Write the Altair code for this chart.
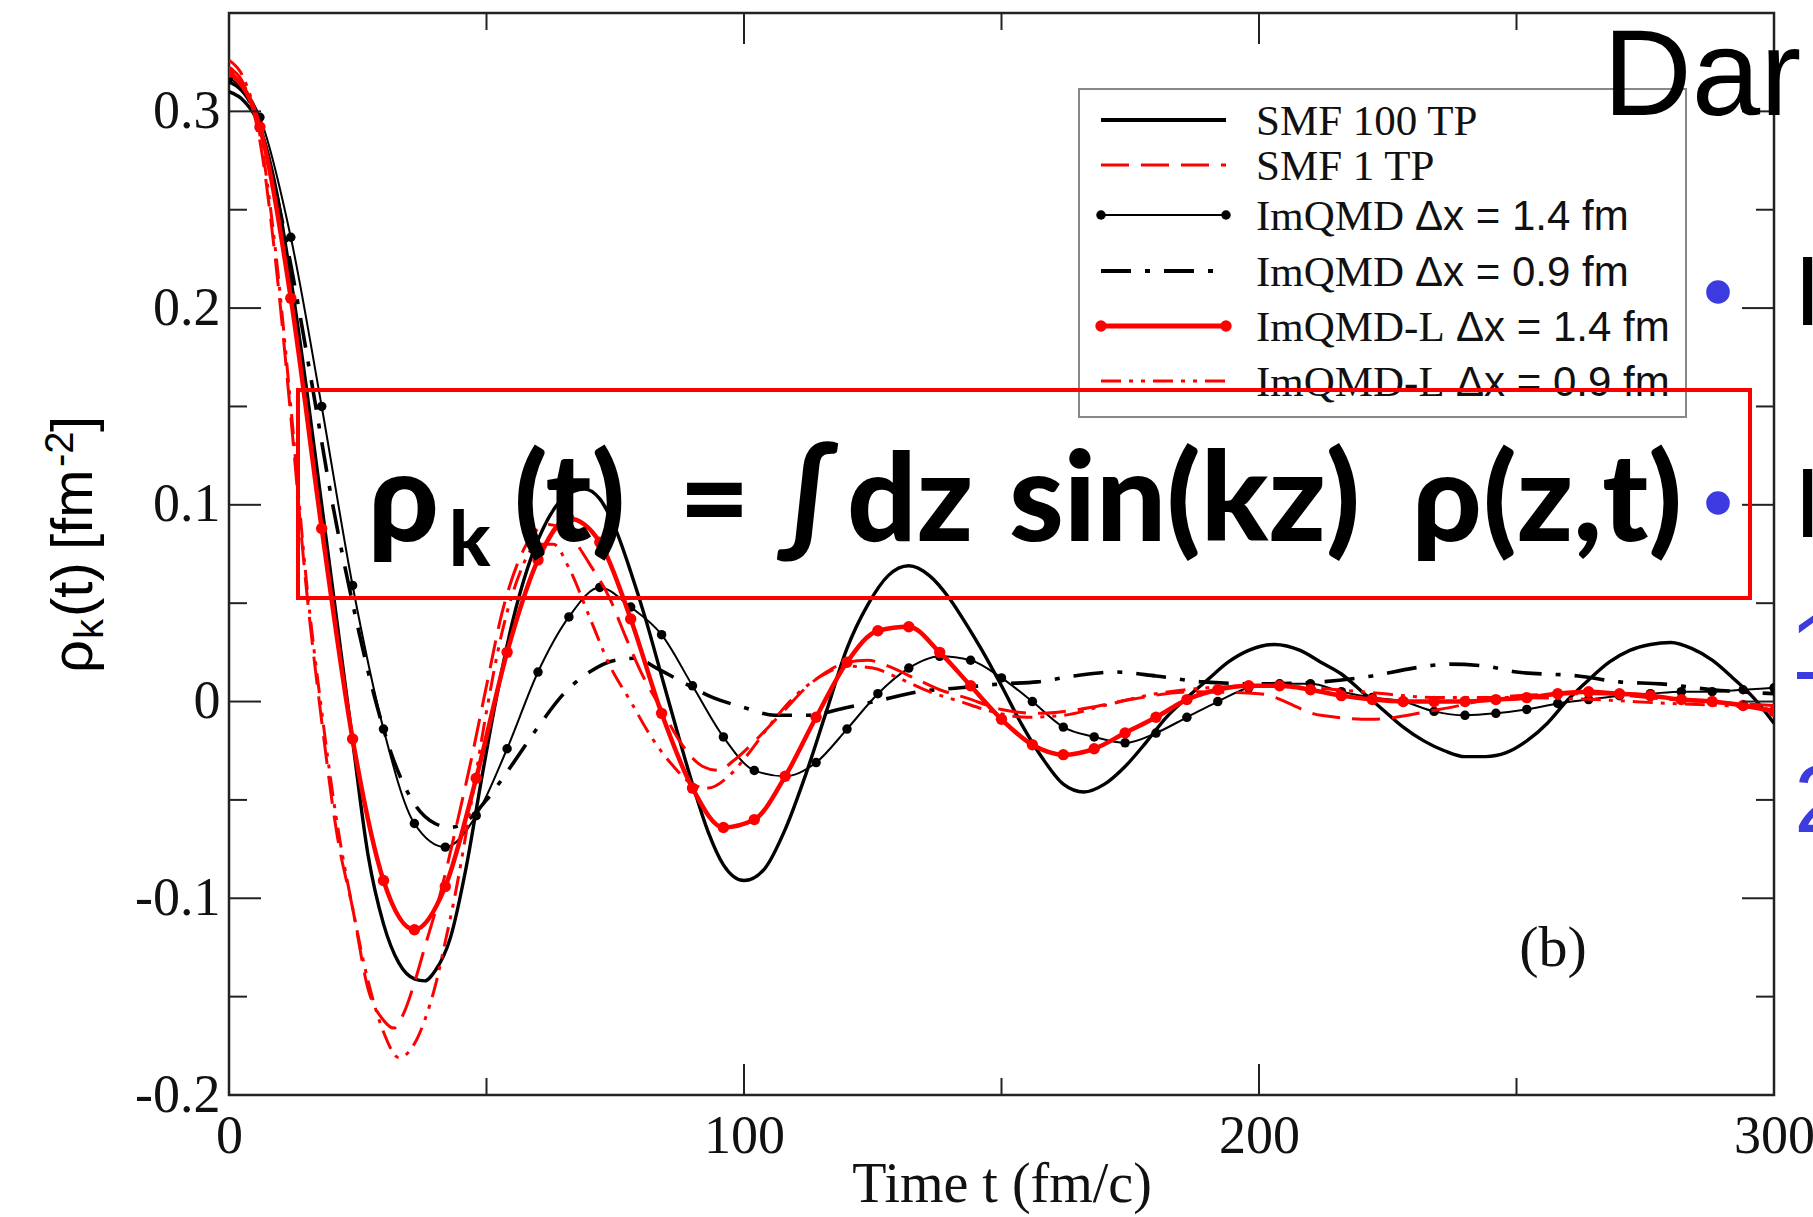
import altair as alt
import pandas as pd

# ---------------- data ----------------
smf100_t = [0, 3, 6, 9, 12, 15, 18, 21, 24, 27, 30, 33, 36, 38, 40, 43, 46, 49, 52, 55,
            58, 61, 64, 67, 69, 72, 75, 78, 81, 84, 87, 90, 93, 96, 100, 104, 108, 112, 116, 120,
            124, 128, 132, 136, 140, 143, 146, 150, 154, 158, 162, 166, 170, 174, 178, 182, 186, 190, 194, 198,
            203, 208, 212, 216, 220, 224, 228, 232, 236, 240, 244, 248, 252, 256, 260, 264, 268, 272, 276, 280,
            284, 288, 292, 296, 300]
smf100_v = [0.310, 0.305, 0.292, 0.262, 0.215, 0.160, 0.100, 0.040, -0.020, -0.078, -0.113, -0.133, -0.141, -0.142, -0.137, -0.120, -0.085, -0.040, 0.003, 0.040,
            0.068, 0.088, 0.101, 0.107, 0.108, 0.103, 0.088, 0.066, 0.041, 0.013, -0.015, -0.042, -0.066, -0.083, -0.091, -0.085, -0.065, -0.037, -0.005, 0.027,
            0.049, 0.064, 0.069, 0.064, 0.052, 0.040, 0.027, 0.008, -0.012, -0.029, -0.042, -0.046, -0.042, -0.033, -0.021, -0.008, 0.002, 0.011, 0.020, 0.026,
            0.029, 0.026, 0.020, 0.014, 0.005, -0.004, -0.013, -0.020, -0.025, -0.028, -0.028, -0.026, -0.020, -0.011, 0.001, 0.011, 0.020, 0.026, 0.029, 0.030,
            0.027, 0.021, 0.012, 0.002, -0.011]

smf1_t = [0, 3, 6, 9, 12, 15, 18, 21, 24, 27, 30, 32, 34, 36, 38, 41, 44, 47, 50, 53,
          56, 59, 62, 66, 70, 74, 77, 80, 84, 88, 92, 95, 98, 101, 104, 108, 112, 116, 120, 124,
          128, 133, 138, 143, 150, 157, 165, 175, 187, 200, 212, 222, 235, 250, 265, 280, 300]
smf1_v = [0.322, 0.313, 0.285, 0.225, 0.145, 0.058, -0.010, -0.068, -0.105, -0.146, -0.162, -0.166, -0.158, -0.143, -0.125, -0.098, -0.065, -0.030, 0.008, 0.045,
          0.070, 0.085, 0.090, 0.085, 0.070, 0.052, 0.033, 0.015, -0.004, -0.022, -0.033, -0.035, -0.030, -0.023, -0.015, -0.004, 0.007, 0.015, 0.020, 0.021,
          0.018, 0.012, 0.006, 0.002, -0.004, -0.006, -0.004, 0.001, 0.005, 0.004, -0.007, -0.009, -0.004, 0.003, 0.004, 0.001, -0.002]

marker_t = [0, 6, 12, 18, 24, 30, 36, 42, 48, 54, 60, 66, 72, 78, 84, 90, 96, 102, 108, 114,
            120, 126, 132, 138, 144, 150, 156, 162, 168, 174, 180, 186, 192, 198, 204, 210, 216, 222, 228, 234,
            240, 246, 252, 258, 264, 270, 276, 282, 288, 294, 300]
imqmd14_v = [0.317, 0.297, 0.236, 0.150, 0.059, -0.014, -0.062, -0.074, -0.058, -0.024, 0.015, 0.043, 0.058, 0.048, 0.034, 0.008, -0.018, -0.035, -0.038, -0.031,
             -0.014, 0.004, 0.017, 0.023, 0.021, 0.012, 0.000, -0.013, -0.018, -0.021, -0.016, -0.008, 0.000, 0.007, 0.009, 0.009, 0.005, 0.002, 0.000, -0.005,
             -0.007, -0.006, -0.004, -0.001, 0.001, 0.003, 0.004, 0.005, 0.005, 0.006, 0.007]
imqmdl14_v = [0.320, 0.292, 0.205, 0.088, -0.019, -0.091, -0.116, -0.094, -0.039, 0.025, 0.072, 0.093, 0.081, 0.042, -0.006, -0.044, -0.064, -0.060, -0.038, -0.008,
              0.020, 0.036, 0.038, 0.025, 0.008, -0.009, -0.022, -0.027, -0.024, -0.016, -0.008, 0.001, 0.006, 0.008, 0.008, 0.006, 0.003, 0.001, 0.000, 0.000,
              0.000, 0.001, 0.002, 0.004, 0.005, 0.004, 0.003, 0.001, 0.000, -0.002, -0.005]

imqmd09_t = [0, 4, 8, 12, 16, 20, 24, 28, 32, 36, 40, 43, 46, 50, 55, 60, 65, 70, 75, 79,
             83, 88, 94, 100, 106, 112, 120, 127, 134, 142, 150, 157, 164, 172, 180, 189, 200, 212, 222, 230,
             237, 244, 250, 262, 270, 278, 288, 300]
imqmd09_v = [0.315, 0.305, 0.272, 0.222, 0.163, 0.102, 0.050, 0.005, -0.030, -0.052, -0.062, -0.064, -0.061, -0.050, -0.032, -0.013, 0.004, 0.015, 0.021, 0.022,
             0.017, 0.010, 0.002, -0.003, -0.007, -0.007, -0.003, 0.001, 0.005, 0.007, 0.009, 0.010, 0.013, 0.015, 0.013, 0.010, 0.009, 0.010, 0.013, 0.017,
             0.019, 0.018, 0.015, 0.013, 0.010, 0.009, 0.006, 0.004]

imqmdl09_t = [0, 3, 6, 9, 12, 15, 18, 21, 24, 27, 30, 33, 36, 38, 40, 42, 44, 47, 50, 53,
              56, 60, 63, 66, 70, 74, 78, 82, 86, 90, 93, 97, 101, 105, 110, 115, 120, 125, 130, 136,
              142, 148, 155, 162, 170, 180, 190, 200, 210, 220, 235, 250, 265, 280, 290, 300]
imqmdl09_v = [0.326, 0.316, 0.288, 0.230, 0.150, 0.062, -0.005, -0.062, -0.105, -0.142, -0.168, -0.181, -0.174, -0.162, -0.145, -0.122, -0.097, -0.052, -0.005, 0.035,
              0.062, 0.080, 0.080, 0.068, 0.043, 0.018, 0.000, -0.018, -0.032, -0.042, -0.044, -0.038, -0.026, -0.012, 0.003, 0.013, 0.018, 0.017, 0.012, 0.005,
              0.000, -0.005, -0.008, -0.007, -0.002, 0.004, 0.007, 0.008, 0.007, 0.005, 0.002, 0.002, 0.001, -0.001, -0.002, -0.004]

x_major = [0, 100, 200, 300]
x_minor = [50, 150, 250]
y_major = [-0.2, -0.1, 0.0, 0.1, 0.2, 0.3]
y_minor = [-0.15, -0.05, 0.05, 0.15, 0.25]

legend_serif = ["SMF 100 TP", "SMF 1 TP", "ImQMD", "ImQMD", "ImQMD-L", "ImQMD-L"]
legend_sans = ["", "", "Δx = 1.4 fm", "Δx = 0.9 fm", "Δx = 1.4 fm", "Δx = 0.9 fm"]

x_title = "Time t (fm/c)"
y_title_parts = ["ρ", "k", "(t)", "[fm", "-2", "]"]
formula_parts = ["ρ", "k", "(t)", "=", "∫", "dz", "sin(kz)", "ρ", "(z,t)"]
panel_tag = "(b)"
slide_title = "Dar"
slide_letters = ["I", "I"]
slide_numbers = ["1", "2"]

# ---------------- layout / styles ----------------
W, H = 1545, 1082
RED = "#ff0000"
BLUE = "#3b3be0"
SERIF = "Liberation Serif"
SANS = "Liberation Sans"

XS = alt.Scale(domain=[0, 300], nice=False, zero=False)
YS = alt.Scale(domain=[-0.2, 0.35], nice=False, zero=False)

x_axis = alt.Axis(values=x_major, ticks=False, domain=False, grid=False,
                  labelFont=SERIF, labelFontSize=54, labelColor="#111",
                  labelPadding=14, labelOverlap=False, labelFlush=False, title=None)
y_axis = alt.Axis(values=y_major, ticks=False, domain=False, grid=False,
                  labelFont=SERIF, labelFontSize=54, labelColor="#111",
                  labelPadding=9, labelOverlap=False, labelFlush=False, title=None,
                  labelExpr="datum.value == 0 ? '0' : (datum.value < 0 ? '-' : '') + format(abs(datum.value), '.1f')")


def X():
    return alt.X("t:Q", scale=XS, axis=x_axis)


def Y():
    return alt.Y("v:Q", scale=YS, axis=y_axis)


def one():
    return pd.DataFrame({"a": [0]})


def curve(t, v, color, width, dash=None):
    df = pd.DataFrame({"t": t, "v": v})
    props = dict(interpolate="monotone", color=color, strokeWidth=width, clip=True)
    if dash is not None:
        props["strokeDash"] = dash
    return alt.Chart(df).mark_line(**props).encode(x=X(), y=Y())


def dots(t, v, color, size):
    df = pd.DataFrame({"t": t, "v": v})
    return alt.Chart(df).mark_circle(color=color, size=size, opacity=1, clip=True).encode(x=X(), y=Y())


def xticks(vals, length):
    df = pd.DataFrame({"t": vals})
    b = alt.Chart(df).mark_rule(color="#222", strokeWidth=2).encode(
        x=X(), y=alt.value(H), y2=alt.value(H - length))
    t = alt.Chart(df).mark_rule(color="#222", strokeWidth=2).encode(
        x=X(), y=alt.value(0), y2=alt.value(length))
    return [b, t]


def yticks(vals, length):
    df = pd.DataFrame({"v": vals})
    l = alt.Chart(df).mark_rule(color="#222", strokeWidth=2).encode(
        y=Y(), x=alt.value(0), x2=alt.value(length))
    r = alt.Chart(df).mark_rule(color="#222", strokeWidth=2).encode(
        y=Y(), x=alt.value(W - length), x2=alt.value(W))
    return [l, r]


def label(text, px, py, size, font, color="#000", weight="normal", align="left",
          baseline="alphabetic", angle=0):
    df = pd.DataFrame({"label": [text]})
    mk = dict(font=font, fontSize=size, color=color, fontWeight=weight, align=align, baseline=baseline)
    if angle:
        mk["angle"] = angle
    return alt.Chart(df).mark_text(**mk).encode(x=alt.value(px), y=alt.value(py), text="label:N")


def box(x0, x1, y0, y1, stroke, width, fill="white", fill_opacity=1.0):
    return alt.Chart(one()).mark_rect(fill=fill, fillOpacity=fill_opacity, stroke=stroke,
                                      strokeWidth=width).encode(
        x=alt.value(x0), x2=alt.value(x1), y=alt.value(y0), y2=alt.value(y1))


def seg(x0, x1, py, color, width, dash=None):
    props = dict(color=color, strokeWidth=width)
    if dash is not None:
        props["strokeDash"] = dash
    return alt.Chart(one()).mark_rule(**props).encode(x=alt.value(x0), x2=alt.value(x1), y=alt.value(py))


def dot_px(px, py, color, size):
    return alt.Chart(one()).mark_circle(color=color, size=size, opacity=1).encode(
        x=alt.value(px), y=alt.value(py))


DASH_SMF1 = [28, 12]
DASH_Q09 = [30, 14, 5, 14]
DASH_L09 = [20, 8, 4, 8, 4, 8]

layers = []
layers.append(curve(imqmd09_t, imqmd09_v, "#000", 3.6, DASH_Q09))
layers.append(curve(smf100_t, smf100_v, "#000", 3.4))
layers.append(curve(marker_t, imqmd14_v, "#000", 2.0))
layers.append(dots(marker_t, imqmd14_v, "#000", 90))
layers.append(curve(smf1_t, smf1_v, RED, 3.0, DASH_SMF1))
layers.append(curve(imqmdl09_t, imqmdl09_v, RED, 3.0, DASH_L09))
layers.append(curve(marker_t, imqmdl14_v, RED, 4.5))
layers.append(dots(marker_t, imqmdl14_v, RED, 130))

# inward ticks on all four sides
layers += xticks(x_major, 31) + xticks(x_minor, 17)
layers += yticks(y_major, 32) + yticks(y_minor, 18)

# legend
LEG_ROWS = [107, 152, 202, 258, 313, 368]
SANS_X = [None, None, 1186, 1186, 1227, 1227]
L0, L1, LT = 872, 997, 1027
layers.append(box(850, 1457, 76, 404, "#888", 2))
styles = [("#000", 4, None, 0), (RED, 3, DASH_SMF1, 0), ("#000", 2, None, 90),
          ("#000", 4, DASH_Q09, 0), (RED, 5, None, 130), (RED, 3, DASH_L09, 0)]
for i, (col, wdt, dsh, msz) in enumerate(styles):
    yy = LEG_ROWS[i]
    layers.append(seg(L0, L1, yy, col, wdt, dsh))
    if msz:
        layers.append(dot_px(L0, yy, col, msz))
        layers.append(dot_px(L1, yy, col, msz))
    layers.append(label(legend_serif[i], LT, yy + 15, 43, SERIF, color="#111"))
    if legend_sans[i]:
        layers.append(label(legend_sans[i], SANS_X[i], yy + 15, 42, SANS, color="#111"))

# axis titles
layers.append(label(x_title, 773, 1189, 56, SERIF, color="#111", align="center"))
layers.append(label(y_title_parts[0], -137, 660, 58, SANS, angle=270))
layers.append(label(y_title_parts[1], -126, 626, 40, SANS, angle=270))
layers.append(label(y_title_parts[2], -137, 604, 58, SANS, angle=270))
layers.append(label(y_title_parts[3], -137, 537, 58, SANS, angle=270))
layers.append(label(y_title_parts[4], -156, 454, 40, SANS, angle=270))
layers.append(label(y_title_parts[5], -137, 419, 58, SANS, angle=270))

# panel tag
layers.append(label(panel_tag, 1324, 953, 58, SERIF, color="#111", align="center"))

# overlay box with formula
layers.append(box(69, 1521, 377, 585, RED, 4, fill="white", fill_opacity=0))
FORMULA_X = [139, 220, 285, 450, 548, 618, 780, 1183, 1254]
FORMULA_Y = [528, 553, 528, 528, 528, 528, 528, 528, 528]
FORMULA_SIZE = [124, 76, 122, 122, 122, 122, 124, 122, 122]
for i, part in enumerate(formula_parts):
    layers.append(label(part, FORMULA_X[i], FORMULA_Y[i], FORMULA_SIZE[i], "Lato", weight=900))

# slide fragments at the right edge
layers.append(label(slide_title, 1374, 102, 123, SANS))
layers.append(dot_px(1489, 279, BLUE, 560))
layers.append(dot_px(1489, 490, BLUE, 560))
layers.append(label(slide_letters[0], 1565, 312, 98, SANS))
layers.append(label(slide_letters[1], 1565, 524, 98, SANS))
layers.append(label(slide_numbers[0], 1561, 666, 92, SANS, color=BLUE))
layers.append(label(slide_numbers[1], 1565, 819, 96, SANS, color=BLUE))

chart = alt.layer(*layers).properties(
    width=W, height=H,
    autosize=alt.AutoSizeParams(type="none"),
    padding={"left": 229, "top": 13, "right": 39, "bottom": 122},
    background="white",
).configure_view(stroke="#222", strokeWidth=2.5)

chart.save("out.html", embed_options={"renderer": "svg", "actions": False})
